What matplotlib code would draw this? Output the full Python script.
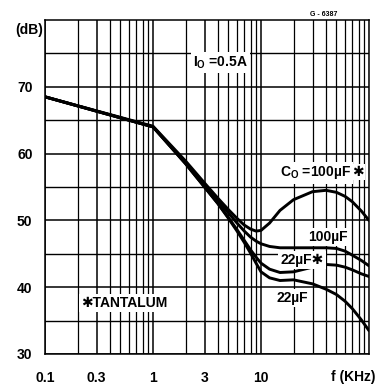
import numpy as np
import matplotlib
matplotlib.use("Agg")
import matplotlib.pyplot as plt

plt.rcParams['font.family'] = ['Liberation Sans', 'DejaVu Sans']
plt.rcParams['font.weight'] = 'bold'
plt.rcParams['mathtext.fontset'] = 'custom'
plt.rcParams['mathtext.rm'] = 'Liberation Sans:bold'
plt.rcParams['mathtext.default'] = 'rm'

# frequency points (kHz) shared by all curves
freq = [0.1, 1.0, 2.0, 3.0, 4.0, 5.0, 6.0, 7.0, 8.0, 9.0, 10.0, 12.0,
        15.0, 20.0, 30.0, 40.0, 50.0, 60.0, 70.0, 85.0, 100.0]

# ripple rejection (dB) for each output capacitor
rej_100_tant = [68.5, 64.1, 58.9, 55.6, 53.3, 51.6, 50.3, 49.3, 48.7, 48.4, 48.5, 49.6,
                51.5, 53.1, 54.3, 54.5, 54.2, 53.6, 52.8, 51.4, 50.0]
rej_100 = [68.5, 64.0, 58.7, 55.3, 52.9, 51.1, 49.6, 48.4, 47.5, 46.9, 46.5, 46.1,
           45.9, 45.9, 45.9, 45.9, 45.8, 45.4, 44.8, 44.0, 43.2]
rej_22_tant = [68.5, 64.0, 58.5, 55.0, 52.5, 50.4, 48.6, 47.0, 45.6, 44.5, 43.6, 42.7,
               42.2, 42.3, 43.0, 43.4, 43.3, 43.0, 42.6, 42.0, 41.6]
rej_22 = [68.5, 64.0, 58.5, 55.0, 52.5, 50.3, 48.4, 46.7, 45.1, 43.6, 42.3, 41.4,
          41.0, 41.1, 40.5, 39.7, 38.9, 37.9, 36.8, 35.1, 33.5]

x_ticks = [0.1, 0.3, 1, 3, 10]
x_labels = ["0.1", "0.3", "1", "3", "10"]
y_ticks = [30, 40, 50, 60, 70]

fig = plt.figure(figsize=(3.75, 3.87), dpi=100)
ax = fig.add_axes([0.12, 0.0853, 0.864, 0.8630])

for rej in [rej_100_tant, rej_100, rej_22_tant, rej_22]:
    ax.plot(freq, rej, color='black', lw=2.1, solid_capstyle='round', zorder=3)

ax.set_xscale('log')
ax.set_xlim(0.1, 100)
ax.set_ylim(30, 80)

ax.set_xticks(x_ticks)
ax.set_xticklabels(x_labels)
ax.set_xticks([m * d for d in [0.1, 1, 10] for m in range(2, 10)] + [100], minor=True)
ax.set_yticks(y_ticks)
ax.set_yticks([35, 45, 55, 65, 75], minor=True)
ax.tick_params(which='both', length=0, labelsize=10)
ax.tick_params(axis='x', pad=12)
ax.tick_params(axis='y', pad=9)
ax.xaxis.set_minor_formatter(plt.NullFormatter())

ax.grid(which='major', axis='both', color='black', lw=1.1)
ax.grid(which='minor', axis='x', color='black', lw=0.9)
ax.grid(which='minor', axis='y', color='black', lw=1.0)
for s in ax.spines.values():
    s.set_linewidth(1.1)

box = dict(facecolor='white', edgecolor='none', pad=1.5)
ax.text(4.2, 73.6, r"I$_\mathrm{O}$ =0.5A", fontsize=10, ha='center', va='center', bbox=box, zorder=4)
co = ax.text(32, 57.1, r"C$_\mathrm{O}$ =100µF", fontsize=10, ha='center', va='center', bbox=box, zorder=4)
ax.annotate("✱", xy=(1, 0.55), xycoords=co, xytext=(1, 0), textcoords='offset points',
            fontsize=10, ha='left', va='center', zorder=4,
            bbox=dict(facecolor='white', edgecolor='none', pad=0.5))
ax.text(42, 47.5, "100µF", fontsize=10, ha='center', va='center', bbox=box, zorder=4)
ax.text(24, 44.1, "22µF✱", fontsize=10, ha='center', va='center', bbox=box, zorder=4)
ax.text(19.5, 38.4, "22µF", fontsize=10, ha='center', va='center', bbox=box, zorder=4)
ax.text(0.54, 37.6, "✱TANTALUM", fontsize=10, ha='center', va='center', bbox=box, zorder=4)

ax.text(-0.006, 0.97, "(dB)", transform=ax.transAxes, fontsize=10, ha='right', va='center')
ax.text(1.02, -0.069, "f (KHz)", transform=ax.transAxes, fontsize=10, ha='right', va='center')
ax.text(0.86, 1.015, "G - 6387", transform=ax.transAxes, fontsize=5, ha='center', va='center')

fig.savefig("out.png", dpi=100)
